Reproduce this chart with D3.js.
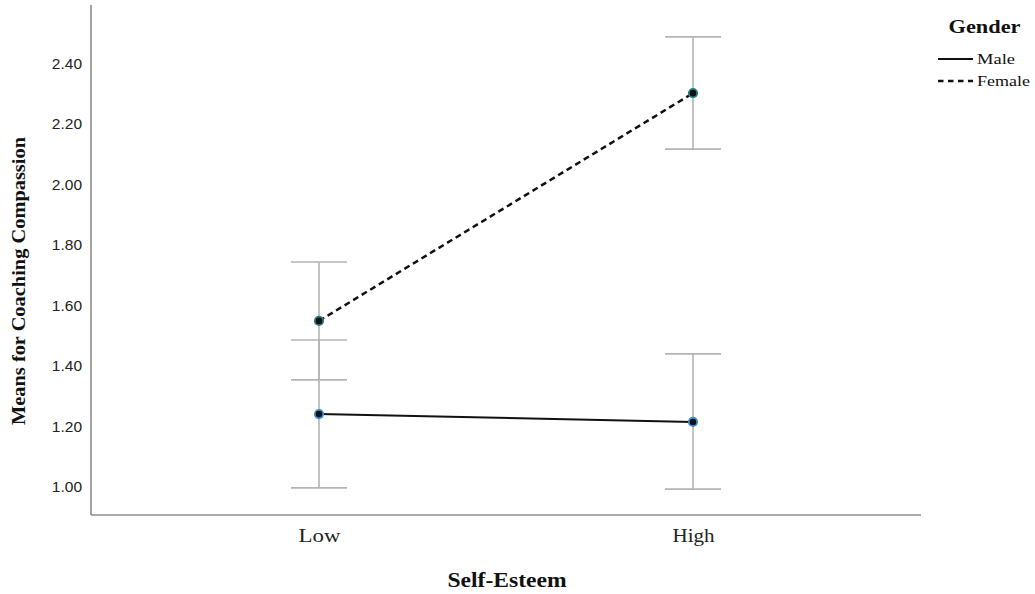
<!DOCTYPE html>
<html><head><meta charset="utf-8">
<script src="https://cdn.jsdelivr.net/npm/d3@7"></script>
<style>body{margin:0;background:#fff}</style>
</head><body>
<svg id="c" width="1035" height="594"></svg>
<script>
const categories = ["Low", "High"];
const seriesNames = ["Male", "Female"];
const maleMeans = [1.241, 1.215];
const maleLower = [0.997, 0.993];
const maleUpper = [1.486, 1.440];
const femaleMeans = [1.549, 2.302];
const femaleLower = [1.354, 2.117];
const femaleUpper = [1.744, 2.488];
const yTicks = [1.00, 1.20, 1.40, 1.60, 1.80, 2.00, 2.20, 2.40];

const SERIF = "Liberation Serif, Times New Roman, serif";
const svg = d3.select("#c");
const x = d3.scalePoint().domain(categories).range([91, 921]).padding(0.6096);
const y = d3.scaleLinear().domain([0.9074, 2.5934]).range([515, 5]);

const series = [
  {name: seriesNames[0], means: maleMeans, lo: maleLower, hi: maleUpper, dash: null, width: 2, mstroke: "#3d8fd6", tl: 38},
  {name: seriesNames[1], means: femaleMeans, lo: femaleLower, hi: femaleUpper, dash: "6,4", width: 2.5, mstroke: "#2f7f80", tl: 53}
];

// error bars
series.forEach(s => {
  const g = svg.append("g");
  categories.forEach((c, i) => {
    const cx = x(c);
    g.append("line").attr("x1", cx).attr("x2", cx).attr("y1", y(s.lo[i])).attr("y2", y(s.hi[i]))
      .attr("stroke", "#b4b4b4").attr("stroke-width", 1.6);
    [s.lo[i], s.hi[i]].forEach(v => {
      g.append("line").attr("x1", cx - 28).attr("x2", cx + 28).attr("y1", y(v)).attr("y2", y(v))
        .attr("stroke", "#b4b4b4").attr("stroke-width", 1.6);
    });
  });
});

// axes
const yAxis = d3.axisLeft(y).tickValues(yTicks).tickFormat(d3.format(".2f")).tickSize(0).tickPadding(9);
const ya = svg.append("g").attr("transform", "translate(91,0)").call(yAxis);
ya.select(".domain").remove();
ya.selectAll("text").attr("font-family", "Liberation Sans, Arial, sans-serif").attr("font-size", 15.5).attr("fill", "#222");
svg.append("line").attr("x1", 91).attr("x2", 91).attr("y1", 5).attr("y2", 515).attr("stroke", "#8c8c8c").attr("stroke-width", 1.6);

const xAxis = d3.axisBottom(x).tickSize(0).tickPadding(0);
const xa = svg.append("g").attr("transform", "translate(0,515)").call(xAxis);
xa.select(".domain").remove();
xa.selectAll("text").attr("dy", null).attr("y", 27).attr("font-family", SERIF).attr("font-size", 19)
  .attr("fill", "#222").attr("textLength", 42).attr("lengthAdjust", "spacingAndGlyphs");
svg.append("line").attr("x1", 91).attr("x2", 921).attr("y1", 515).attr("y2", 515).attr("stroke", "#8c8c8c").attr("stroke-width", 1.6);

// lines
const line = d3.line().x((d, i) => x(categories[i])).y(d => y(d));
series.forEach(s => {
  svg.append("path").datum(s.means).attr("d", line).attr("fill", "none")
    .attr("stroke", "#111").attr("stroke-width", s.width).attr("stroke-dasharray", s.dash);
});
// markers
series.forEach(s => {
  svg.selectAll(null).data(s.means).enter().append("circle")
    .attr("cx", (d, i) => x(categories[i])).attr("cy", d => y(d)).attr("r", 4.2)
    .attr("fill", "#111").attr("stroke", s.mstroke).attr("stroke-width", 1.8);
});

// titles
svg.append("text").attr("x", 507).attr("y", 587).attr("text-anchor", "middle")
  .attr("font-family", SERIF).attr("font-weight", "bold").attr("font-size", 20)
  .attr("textLength", 119).attr("lengthAdjust", "spacingAndGlyphs")
  .attr("fill", "#111").text("Self-Esteem");
svg.append("text").attr("transform", "translate(25,281) rotate(-90)").attr("text-anchor", "middle")
  .attr("font-family", SERIF).attr("font-weight", "bold").attr("font-size", 19)
  .attr("textLength", 288).attr("lengthAdjust", "spacingAndGlyphs")
  .attr("fill", "#111").text("Means for Coaching Compassion");

// legend
svg.append("text").attr("x", 984.5).attr("y", 33).attr("text-anchor", "middle")
  .attr("font-family", SERIF).attr("font-weight", "bold").attr("font-size", 18.5)
  .attr("textLength", 72).attr("lengthAdjust", "spacingAndGlyphs")
  .attr("fill", "#111").text("Gender");
const lg = svg.append("g");
series.forEach((s, i) => {
  const ly = 59 + i * 22;
  lg.append("line").attr("x1", 938).attr("x2", 973).attr("y1", ly).attr("y2", ly)
    .attr("stroke", "#111").attr("stroke-width", s.width).attr("stroke-dasharray", s.dash ? "5.5,4.5" : null);
  lg.append("text").attr("x", 977).attr("y", ly + 5)
    .attr("font-family", SERIF).attr("font-size", 15)
    .attr("textLength", s.tl).attr("lengthAdjust", "spacingAndGlyphs")
    .attr("fill", "#111").text(s.name);
});
</script>
</body></html>
